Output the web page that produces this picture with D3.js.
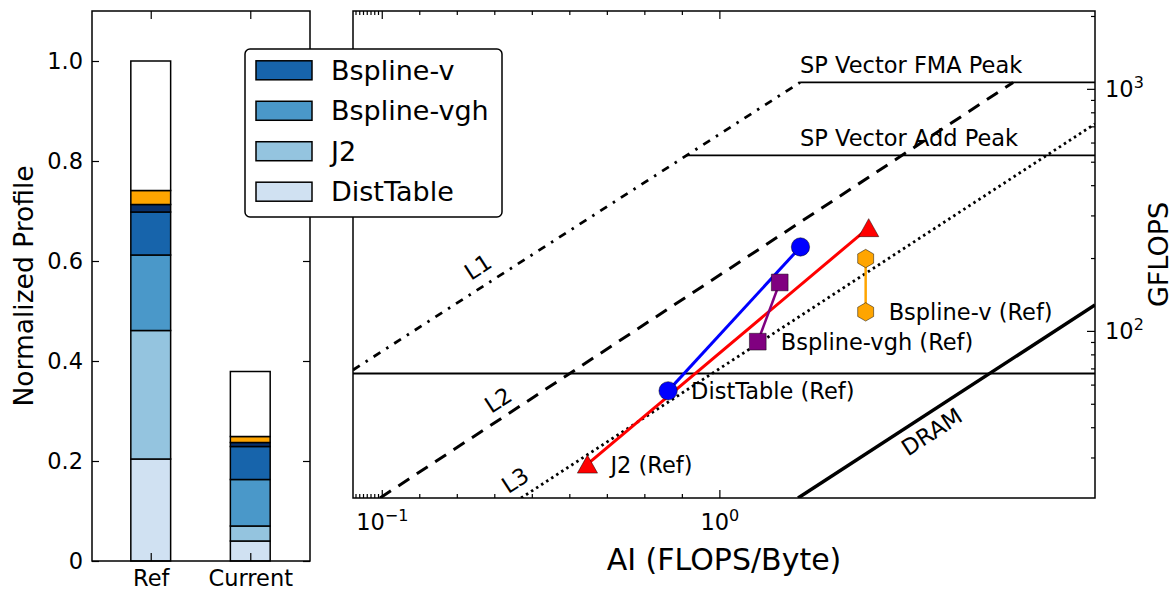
<!DOCTYPE html>
<html><head><meta charset="utf-8">
<script src="https://cdn.jsdelivr.net/npm/d3@7"></script>
<style>body{margin:0;background:#fff} text{font-family:"DejaVu Sans",sans-serif;fill:#000}</style>
</head><body><svg id="c" width="1176" height="591"></svg>
<script>
// ---------- Left panel data (normalized profile) ----------
const barCategories = ["Ref", "Current"];
const segmentNames = ["DistTable", "J2", "Bspline-vgh", "Bspline-v", "Other", "Orange", "Rest"];
const distTable   = [0.204, 0.040];
const j2          = [0.257, 0.030];
const bsplineVgh  = [0.151, 0.093];
const bsplineV    = [0.086, 0.066];
const otherDark   = [0.015, 0.008];
const otherOrange = [0.028, 0.012];
const remainder   = [0.259, 0.130];
const segColors = ["#d0e1f2", "#94c4df", "#4a98c9", "#1764ab", "#08306b", "#ffa500", "#ffffff"];
const profileTicks = [0, 0.2, 0.4, 0.6, 0.8, 1.0];
const profileTickLabels = ["0", "0.2", "0.4", "0.6", "0.8", "1.0"];
const legendNames = ["Bspline-v", "Bspline-vgh", "J2", "DistTable"];
const legendColors = ["#1764ab", "#4a98c9", "#94c4df", "#d0e1f2"];

// ---------- Right panel data (roofline) ----------
const kernels = ["DistTable", "J2", "Bspline-vgh", "Bspline-v"];
const kernelColors = ["#0000ff", "#ff0000", "#800080", "#ffa500"];
const kernelMarkers = ["circle", "triangle", "square", "hexagon"];
const refAI      = [0.862, 0.647, 1.262, 2.447];
const refGflops  = [56.8, 28.3, 90.7, 120.4];
const curAI      = [1.640, 2.493, 1.444, 2.447];
const curGflops  = [223.3, 268.3, 159.3, 200.0];
const ceilingNames   = ["SP Vector FMA Peak", "SP Vector Add Peak", ""];
const ceilingGflops  = [1068, 534, 67];
const ceilingStartAI = [1.636, 0.910, 0.022];
const ceilingLabelAI = [1.636, 1.636, 1.636];
const roofNames       = ["L1", "L2", "L3", "DRAM"];
const roofStartAI     = [0.022, 0.094, 0.470, 1.616];
const roofStartGflops = [69.3, 20.5, 20.5, 20.5];
const roofEndAI       = [1.636, 6.05, 10, 10];
const roofEndGflops   = [1068, 1068, 720, 128.6];
const roofLabelAI     = [0.355, 0.409, 0.454, 3.671];
const roofLabelGflops = [184.7, 52.1, 24.3, 38.5];
const aiMajorTicks = [0.1, 1];
const aiMajorLabels = [["10", "\u22121"], ["10", "0"]];
const aiMinorTicks = [0.03, 0.04, 0.05, 0.06, 0.07, 0.08, 0.09, 0.2, 0.3, 0.4, 0.5, 0.6, 0.7, 0.8, 0.9];
const gfMajorTicks = [100, 1000];
const gfMajorLabels = [["10", "2"], ["10", "3"]];
const gfMinorTicks = [30, 40, 50, 60, 70, 80, 90, 200, 300, 400, 500, 600, 700, 800, 900, 2000];

const svg = d3.select("#c");
svg.append("rect").attr("width", 1176).attr("height", 591).attr("fill", "#fff");

// ================= LEFT PANEL =================
const L = {x0: 92, x1: 310, y0: 11, y1: 561};
const xL = d3.scaleLinear().domain([-0.59, 1.6]).range([L.x0, L.x1]);
const yL = d3.scaleLinear().domain([0, 1.1]).range([L.y1, L.y0]);
const barWidth = 0.4;
const seriesValues = [distTable, j2, bsplineVgh, bsplineV, otherDark, otherOrange, remainder];
const table = barCategories.map((c, i) => {
  const o = {cat: c, idx: i};
  segmentNames.forEach((s, k) => o[s] = seriesValues[k][i]);
  return o;
});
const stacked = d3.stack().keys(segmentNames)(table);
const gBars = svg.append("g");
stacked.forEach((layer, k) => {
  gBars.selectAll(null).data(layer).join("rect")
    .attr("x", d => xL(d.data.idx - barWidth / 2))
    .attr("width", xL(barWidth) - xL(0))
    .attr("y", d => yL(d[1]))
    .attr("height", d => yL(d[0]) - yL(d[1]))
    .attr("fill", segColors[k]).attr("stroke", "#000").attr("stroke-width", 1.5);
});

function styleAxis(g, fs) {
  g.select(".domain").remove();
  g.selectAll("line").attr("stroke", "#000").attr("stroke-width", 1.2);
  g.selectAll("text").attr("font-size", fs).attr("fill", "#000");
}
svg.append("g").attr("transform", `translate(${L.x0},0)`)
  .call(d3.axisLeft(yL).tickValues(profileTicks).tickFormat((d, i) => profileTickLabels[i]).tickSize(-7).tickPadding(9))
  .call(g => styleAxis(g, 22.5));
svg.append("g").attr("transform", `translate(${L.x1},0)`)
  .call(d3.axisRight(yL).tickValues(profileTicks).tickFormat("").tickSize(-7))
  .call(g => styleAxis(g, 22.5));
svg.append("g").attr("transform", `translate(0,${L.y1})`)
  .call(d3.axisBottom(xL).tickValues([0, 1]).tickFormat((d, i) => barCategories[i]).tickSize(-8).tickPadding(9))
  .call(g => styleAxis(g, 22.5));
svg.append("g").attr("transform", `translate(0,${L.y0})`)
  .call(d3.axisTop(xL).tickValues([0, 1]).tickFormat("").tickSize(-8))
  .call(g => styleAxis(g, 22.5));
svg.append("rect").attr("x", L.x0).attr("y", L.y0).attr("width", L.x1 - L.x0).attr("height", L.y1 - L.y0)
  .attr("fill", "none").attr("stroke", "#000").attr("stroke-width", 1.5);
svg.append("text").attr("transform", `translate(33,${(L.y0 + L.y1) / 2}) rotate(-90)`)
  .attr("text-anchor", "middle").attr("font-size", 26.5).text("Normalized Profile");

// ================= RIGHT PANEL =================
const R = {x0: 353, x1: 1095, y0: 11, y1: 498};
const symT = v => v <= 1 ? v : 1 + Math.log10(v);   // matplotlib-style symlog (linthresh 1)
const xLinR = d3.scaleLinear().domain([symT(0.022), symT(10)]).range([R.x0, R.x1]);
const xR = v => xLinR(symT(v));
const yR = d3.scaleLog().domain([20.5, 2107]).range([R.y1, R.y0]);

svg.append("clipPath").attr("id", "clipR").append("rect")
  .attr("x", R.x0).attr("y", R.y0).attr("width", R.x1 - R.x0).attr("height", R.y1 - R.y0);
const gR = svg.append("g").attr("clip-path", "url(#clipR)");

// ceilings
gR.selectAll(null).data(ceilingGflops).join("line")
  .attr("x1", (d, i) => xR(ceilingStartAI[i])).attr("x2", xR(10))
  .attr("y1", d => yR(d)).attr("y2", d => yR(d))
  .attr("stroke", "#000").attr("stroke-width", 1.8);

// roofs
const roofDash = ["8,7,2.5,7", "13,9", "2.5,3.5", null];
const roofWidth = [2.8, 3, 2.8, 3.5];
gR.selectAll(null).data(roofNames).join("line")
  .attr("x1", (d, i) => xR(roofStartAI[i])).attr("y1", (d, i) => yR(roofStartGflops[i]))
  .attr("x2", (d, i) => xR(roofEndAI[i])).attr("y2", (d, i) => yR(roofEndGflops[i]))
  .attr("stroke", "#000").attr("stroke-width", (d, i) => roofWidth[i])
  .attr("stroke-dasharray", (d, i) => roofDash[i]);

// kernels
const hexagon = {draw(ctx, size) {
  const r = Math.sqrt(size / (1.5 * Math.sqrt(3)));
  for (let k = 0; k < 6; k++) {
    const a = Math.PI / 2 + k * Math.PI / 3;
    const px = r * Math.cos(a), py = -r * Math.sin(a);
    k ? ctx.lineTo(px, py) : ctx.moveTo(px, py);
  }
  ctx.closePath();
}};
const triUp = {draw(ctx, size) {
  const h = Math.sqrt(size * 0.9);
  ctx.moveTo(0, -h / 2); ctx.lineTo(h * 0.56, h / 2); ctx.lineTo(-h * 0.56, h / 2); ctx.closePath();
}};
const symTypes = {circle: d3.symbolCircle, triangle: triUp, square: d3.symbolSquare, hexagon: hexagon};
const symSizes = {circle: 265, triangle: 360, square: 280, hexagon: 220};

const gK = svg.append("g");
kernels.forEach((k, i) => {
  gK.append("line")
    .attr("x1", xR(refAI[i])).attr("y1", yR(refGflops[i]))
    .attr("x2", xR(curAI[i])).attr("y2", yR(curGflops[i]))
    .attr("stroke", kernelColors[i]).attr("stroke-width", i >= 2 ? 2.5 : 3);
});
kernels.forEach((k, i) => {
  const sym = d3.symbol().type(symTypes[kernelMarkers[i]]).size(symSizes[kernelMarkers[i]]);
  [[refAI[i], refGflops[i]], [curAI[i], curGflops[i]]].forEach(p => {
    gK.append("path").attr("d", sym())
      .attr("transform", `translate(${xR(p[0])},${yR(p[1])})`)
      .attr("fill", kernelColors[i]).attr("stroke", "rgba(0,0,0,0.6)").attr("stroke-width", 0.8);
  });
  gK.append("text").attr("x", xR(refAI[i]) + 23).attr("y", yR(refGflops[i]) + 8.5)
    .attr("font-size", 22.5).text(k + " (Ref)");
});

// roof labels
const slopeAngle = -33;
svg.selectAll(null).data(roofNames).join("text")
  .attr("transform", (d, i) => `translate(${xR(roofLabelAI[i])},${yR(roofLabelGflops[i])}) rotate(${slopeAngle})`)
  .attr("text-anchor", "middle").attr("dominant-baseline", "central")
  .attr("font-size", 22.5).text(d => d);

// ceiling labels
svg.selectAll(null).data(ceilingNames.filter(d => d)).join("text")
  .attr("x", (d, i) => xR(ceilingLabelAI[i])).attr("y", (d, i) => yR(ceilingGflops[i]) - 9.5)
  .attr("font-size", 22.5).text(d => d);

// ticks right panel
const gT = svg.append("g").attr("stroke", "#000").attr("stroke-width", 1.2);
[[aiMajorTicks, 8], [aiMinorTicks, 4]].forEach(([vals, len]) => {
  vals.forEach(v => {
    gT.append("line").attr("x1", xR(v)).attr("x2", xR(v)).attr("y1", R.y1).attr("y2", R.y1 - len);
    gT.append("line").attr("x1", xR(v)).attr("x2", xR(v)).attr("y1", R.y0).attr("y2", R.y0 + len);
  });
});
[[gfMajorTicks, 8], [gfMinorTicks, 4]].forEach(([vals, len]) => {
  vals.forEach(v => {
    gT.append("line").attr("x1", R.x1).attr("x2", R.x1 - len).attr("y1", yR(v)).attr("y2", yR(v));
  });
});
aiMajorTicks.forEach((v, i) => {
  const t = svg.append("text").attr("x", xR(v)).attr("y", 530).attr("text-anchor", "middle").attr("font-size", 22.5);
  t.append("tspan").text(aiMajorLabels[i][0]);
  t.append("tspan").attr("dy", -9).attr("font-size", 16).text(aiMajorLabels[i][1]);
});
gfMajorTicks.forEach((v, i) => {
  const t = svg.append("text").attr("x", R.x1 + 10).attr("y", yR(v) + 8).attr("font-size", 22.5);
  t.append("tspan").text(gfMajorLabels[i][0]);
  t.append("tspan").attr("dy", -9).attr("font-size", 16).text(gfMajorLabels[i][1]);
});

svg.append("rect").attr("x", R.x0).attr("y", R.y0).attr("width", R.x1 - R.x0).attr("height", R.y1 - R.y0)
  .attr("fill", "none").attr("stroke", "#000").attr("stroke-width", 1.5);
svg.append("text").attr("x", (R.x0 + R.x1) / 2).attr("y", 570).attr("text-anchor", "middle")
  .attr("font-size", 30).text("AI (FLOPS/Byte)");
svg.append("text").attr("transform", `translate(1168,${(R.y0 + R.y1) / 2}) rotate(-90)`)
  .attr("text-anchor", "middle").attr("font-size", 27).text("GFLOPS");

// ================= LEGEND =================
const gL = svg.append("g");
gL.append("rect").attr("x", 245).attr("y", 49).attr("width", 257).attr("height", 168).attr("rx", 5)
  .attr("fill", "#fff").attr("stroke", "#000").attr("stroke-width", 1.5);
const legY = d3.scalePoint().domain(legendNames).range([70.3, 191.7]);
legendNames.forEach((n, i) => {
  gL.append("rect").attr("x", 256).attr("y", legY(n) - 9.5).attr("width", 56).attr("height", 19)
    .attr("fill", legendColors[i]).attr("stroke", "#000").attr("stroke-width", 1.5);
  gL.append("text").attr("x", 331).attr("y", legY(n)).attr("dominant-baseline", "central")
    .attr("font-size", 27).text(n);
});
</script></body></html>
